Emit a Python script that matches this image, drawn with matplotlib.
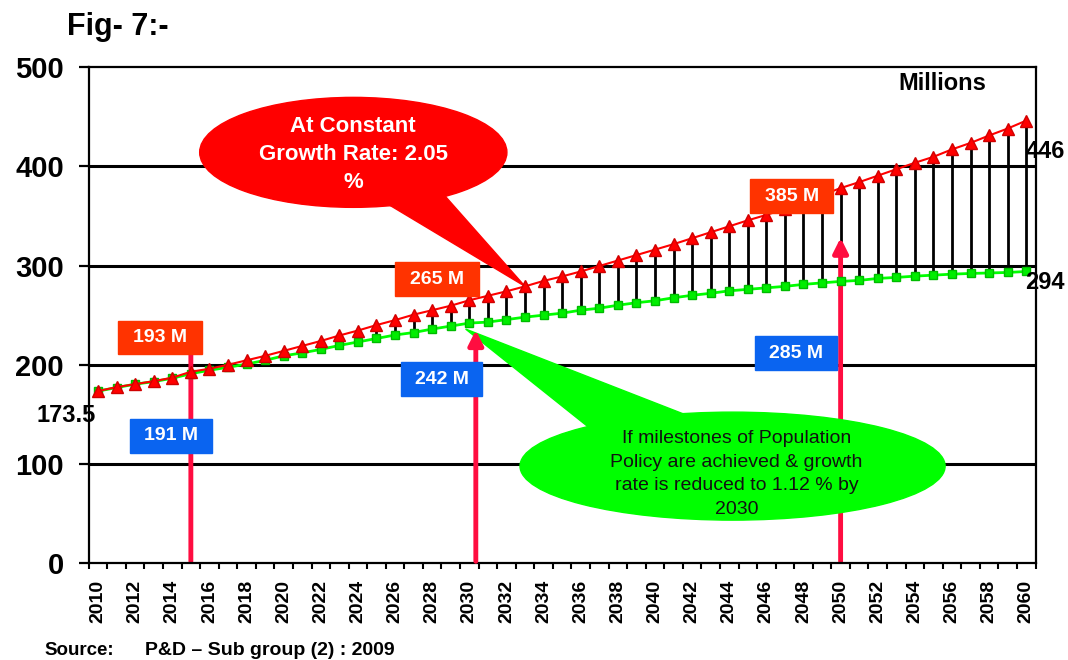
import numpy as np
from matplotlib import pyplot as plt
from matplotlib.patches import Ellipse, Polygon, Rectangle

plt.rcParams['font.family'] = ['Liberation Sans', 'DejaVu Sans']

years = np.arange(2010, 2061)
# constant growth rate 2.05 % (millions)
constant = [173.5, 177.5, 180.5, 183.5, 187, 193, 196, 200, 204.5, 209,
            214, 219, 224, 229.5, 234.5, 240, 245, 250.5, 255, 259.5,
            265, 269.5, 274, 279, 284.5, 289, 294, 299.5, 305, 310.5,
            316, 321.5, 327.5, 333.5, 339.5, 345.5, 351, 357, 364, 371,
            378, 384, 390.5, 397, 403.5, 409.5, 417, 423.5, 431, 438,
            446]
# population policy milestones achieved (millions)
policy = [173.5, 177, 180.5, 183, 186.5, 191, 194.5, 197.5, 200.7, 204.5,
          209, 212, 215.5, 219.5, 223, 226.5, 230, 232.5, 236, 239,
          242, 243, 245.5, 248, 250, 252, 255, 257, 260, 262.5,
          264.5, 267.5, 270, 272, 274.5, 276, 277.5, 279, 281, 282.5,
          284, 285, 287, 288, 289.3, 290.3, 291.3, 292, 292.5, 293,
          294]
milestone_years = [2015, 2030, 2050]
milestone_top = [240, 235, 328]
red_labels = ['193 M', '265 M', '385 M']
blue_labels = ['191 M', '242 M', '285 M']

x = np.arange(len(years))

fig = plt.figure(figsize=(10.68, 6.6), dpi=100)
ax = fig.add_axes([0.0831, 0.1465, 0.8865, 0.752])

ax.set_xlim(-0.5, len(years) - 0.5)
ax.set_ylim(0, 500)
ax.set_yticks([0, 100, 200, 300, 400, 500])
ax.set_yticklabels(['0', '100', '200', '300', '400', '500'], fontsize=21, fontweight='bold')
ax.tick_params(axis='y', direction='out', length=7, width=1.6, pad=11)
ax.set_xticks(x[::2])
ax.set_xticklabels([str(y) for y in years[::2]], rotation=90, fontsize=14, fontweight='bold')
ax.set_xticks(np.arange(-0.5, len(years)), minor=True)
ax.tick_params(axis='x', which='major', length=0, pad=12)
ax.tick_params(axis='x', which='minor', direction='out', length=4, width=1.5)
for s in ax.spines.values():
    s.set_linewidth(1.6)
for g in [100, 200, 300, 400]:
    ax.axhline(g, color='black', lw=2.2, zorder=0.5)

# hi-lo lines between the two projections
ax.vlines(x, policy, constant, color='black', lw=2, zorder=2)

# red arrows
for i, yr in enumerate(milestone_years):
    xi = yr - 2010 + (0.35 if yr == 2030 else 0)
    ax.annotate('', xy=(xi, milestone_top[i]), xytext=(xi, 2),
                arrowprops=dict(arrowstyle='-|>', color='#ff0d40', lw=3.5,
                                mutation_scale=22, shrinkA=0, shrinkB=0),
                zorder=4.5 if yr == 2030 else 2.5)

ax.plot(x, policy, color='#00ff00', lw=2, marker='s', ms=5.5,
        mfc='#00ee00', mec='#00bb00', zorder=5)
ax.plot(x, constant, color='#ff0000', lw=1.5, marker='^', ms=8,
        mfc='#ff0000', mec='#d00000', zorder=5.5)

# callouts
ax.add_patch(Ellipse((13.75, 414), 16.55, 110.8, color='#ff0000', zorder=4))
ax.add_patch(Polygon([(15.6, 362), (18.6, 372), (23, 279)], closed=True,
                     color='#ff0000', zorder=4))
ax.text(13.75, 412, 'At Constant\nGrowth Rate: 2.05\n%', color='white', fontsize=16,
        fontweight='bold', ha='center', va='center', linespacing=1.45, zorder=4.2)

ax.add_patch(Ellipse((34.18, 97.9), 22.9, 108.8, color='#00ff00', zorder=4))
ax.add_patch(Polygon([(26.5, 136), (31.6, 150), (19.8, 236)], closed=True,
                     color='#00ff00', zorder=4))
ax.text(34.4, 90, 'If milestones of Population\nPolicy are achieved & growth\n'
        'rate is reduced to 1.12 % by\n2030', color='#111111', fontsize=14,
        ha='center', va='center', linespacing=1.5, zorder=4.2)

# value boxes
red_pos = [(3.34, 227.6), (18.27, 286.3), (37.36, 369.9)]
blue_pos = [(3.94, 128.5), (18.5, 185.6), (37.6, 211.8)]
for lbl, (cx, cy) in zip(red_labels, red_pos):
    ax.add_patch(Rectangle((cx - 2.25, cy - 17), 4.5, 34, color='#ff3300', zorder=6))
    ax.text(cx, cy, lbl, color='white', fontsize=14, fontweight='bold',
            ha='center', va='center', zorder=6.5)
for lbl, (cx, cy) in zip(blue_labels, blue_pos):
    ax.add_patch(Rectangle((cx - 2.2, cy - 17), 4.4, 34, color='#0a64f0', zorder=6))
    ax.text(cx, cy, lbl, color='white', fontsize=14, fontweight='bold',
            ha='center', va='center', zorder=6.5)

ax.text(-1.7, 149, '173.5', fontsize=17, fontweight='bold', ha='center', va='center', clip_on=False)
ax.text(51.0, 415, '446', fontsize=17, fontweight='bold', ha='center', va='center', clip_on=False, zorder=7)
ax.text(51.0, 283, '294', fontsize=17, fontweight='bold', ha='center', va='center', clip_on=False, zorder=7)
ax.text(45.5, 483, 'Millions', fontsize=17, fontweight='bold', ha='center', va='center')

fig.text(0.063, 0.959, 'Fig- 7:-', fontsize=22, fontweight='bold', va='center')
fig.text(0.042, 0.015, 'Source:', fontsize=13.5, fontweight='bold', va='center')
fig.text(0.136, 0.015, 'P&D \u2013 Sub group (2) : 2009', fontsize=14, fontweight='bold', va='center')

plt.savefig('out.png', dpi=100)
